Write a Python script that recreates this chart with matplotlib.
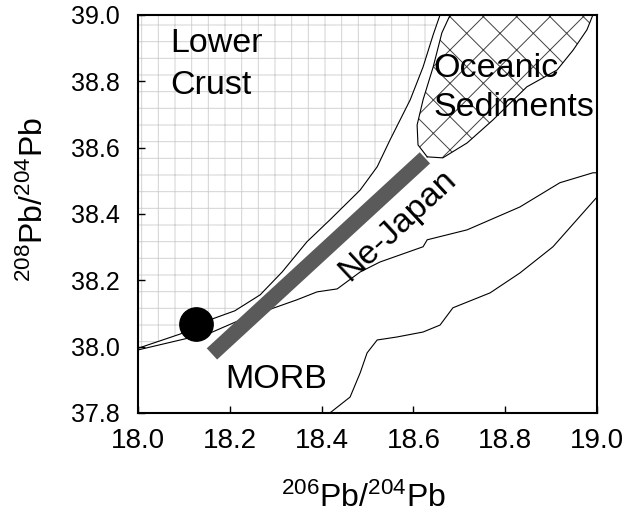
import matplotlib
matplotlib.use("Agg")
import matplotlib.pyplot as plt
from matplotlib.patches import Polygon
import numpy as np

plt.rcParams['font.family'] = ['Liberation Sans', 'DejaVu Sans']
plt.rcParams['mathtext.default'] = 'regular'
plt.rcParams['hatch.linewidth'] = 0.7

# lower boundary of the lower crust field
crust_x = [18.0, 18.092, 18.163, 18.211, 18.266, 18.314, 18.368, 18.418,
           18.484, 18.521, 18.549, 18.593, 18.621, 18.643, 18.658]
crust_y = [37.995, 38.038, 38.084, 38.108, 38.156, 38.225, 38.316, 38.382,
           38.472, 38.542, 38.623, 38.744, 38.843, 38.940, 39.0]

# upper boundary of the MORB field
morb_top_x = [18.0, 18.092, 18.157, 18.222, 18.303, 18.346, 18.390, 18.434,
              18.484, 18.527, 18.621, 18.630, 18.717, 18.832, 18.919, 18.991, 19.0]
morb_top_y = [37.99, 38.020, 38.041, 38.080, 38.120, 38.141, 38.165, 38.174,
              38.225, 38.255, 38.301, 38.322, 38.352, 38.421, 38.494, 38.524, 38.524]

# lower boundary of the MORB field
morb_low_x = [18.418, 18.462, 18.484, 18.499, 18.521, 18.564, 18.621, 18.658,
              18.686, 18.767, 18.832, 18.904, 19.0]
morb_low_y = [37.800, 37.848, 37.921, 37.981, 38.020, 38.029, 38.044, 38.065,
              38.117, 38.162, 38.222, 38.301, 38.451]

# oceanic sediments field, left side then right side
sed_left_x = [18.680, 18.662, 18.643, 18.621, 18.608, 18.610, 18.630]
sed_left_y = [39.0, 38.946, 38.843, 38.744, 38.668, 38.608, 38.572]
sed_right_x = [18.630, 18.664, 18.717, 18.773, 18.847, 18.913, 18.948, 18.978, 18.991]
sed_right_y = [38.572, 38.569, 38.614, 38.683, 38.783, 38.834, 38.894, 38.955, 39.0]

# NE Japan array trend and the single sample
nejapan_x = [18.161, 18.625]
nejapan_y = [37.978, 38.569]
sample_x = [18.126]
sample_y = [38.068]

xticks = [18.0, 18.2, 18.4, 18.6, 18.8, 19.0]
yticks = [37.8, 38.0, 38.2, 38.4, 38.6, 38.8, 39.0]

fig = plt.figure(figsize=(6.34, 5.13), dpi=100)
ax = fig.add_axes([0.2177, 0.195, 0.724, 0.776])

# hatched fields
crust_poly = list(zip(crust_x, crust_y)) + [(18.0, 39.0)]
ax.add_patch(Polygon(crust_poly, closed=True, facecolor='none',
                     edgecolor='#d2d2d2', linewidth=0, hatch='+', zorder=1))
sed_poly = list(zip(sed_left_x, sed_left_y)) + list(zip(sed_right_x[1:], sed_right_y[1:]))
ax.add_patch(Polygon(sed_poly, closed=True, facecolor='none',
                     edgecolor='#404040', linewidth=0, hatch='x', zorder=1))

lw = 0.8
ax.plot(crust_x, crust_y, color='black', lw=lw, zorder=2)
ax.plot(morb_top_x, morb_top_y, color='black', lw=lw, zorder=2)
ax.plot(morb_low_x, morb_low_y, color='black', lw=lw, zorder=2)
ax.plot(sed_left_x, sed_left_y, color='black', lw=lw, zorder=2)
ax.plot(sed_right_x, sed_right_y, color='black', lw=lw, zorder=2)

ax.plot(nejapan_x, nejapan_y, color='#5a5a5a', lw=11, solid_capstyle='butt', zorder=3)
ax.plot(sample_x, sample_y, 'o', color='black', ms=24, zorder=4)

fs = 24.5
ax.text(18.070, 38.961, "Lower\nCrust", fontsize=fs, ha='left', va='top', linespacing=1.45)
ax.text(18.643, 38.885, "Oceanic\nSediments", fontsize=fs, ha='left', va='top', linespacing=1.35)
ax.text(18.190, 37.875, "MORB", fontsize=fs, ha='left', va='baseline')
ax.text(18.566, 38.366, "Ne-Japan", fontsize=fs, ha='center', va='center',
        rotation=43, rotation_mode='anchor')

ax.set_xlim(18.0, 19.0)
ax.set_ylim(37.8, 39.0)
ax.set_xticks(xticks)
ax.set_yticks(yticks)
ax.set_xticklabels(["%.1f" % v for v in xticks])
ax.set_yticklabels(["%.1f" % v for v in yticks])
ax.tick_params(axis='x', direction='in', length=5, width=1, labelsize=20, pad=11)
ax.tick_params(axis='y', direction='in', length=5, width=1, labelsize=18, pad=13)
for sp in ax.spines.values():
    sp.set_linewidth(1.5)

ax.set_xlabel(r"$^{206}$Pb/$^{204}$Pb", fontsize=23)
ax.set_ylabel(r"$^{208}$Pb/$^{204}$Pb", fontsize=23)
ax.xaxis.set_label_coords(0.49, -0.175)
ax.yaxis.set_label_coords(-0.192, 0.535)

fig.savefig("out.png", dpi=100)
